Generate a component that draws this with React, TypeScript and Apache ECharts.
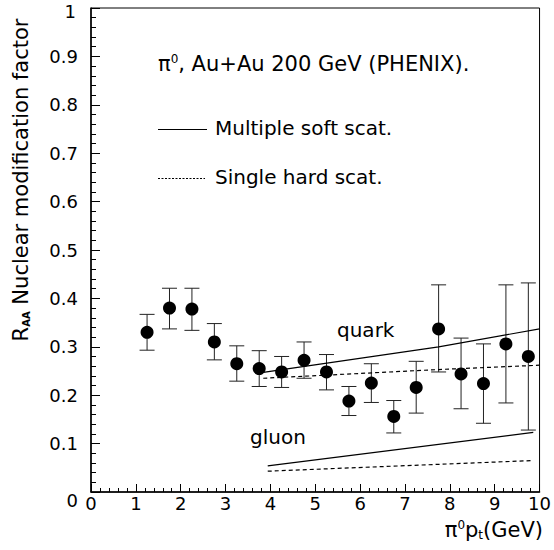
import React, { useEffect, useRef } from "react";
import * as echarts from "echarts";

const ptBins = [1.25, 1.75, 2.25, 2.75, 3.25, 3.75, 4.25, 4.75, 5.25, 5.75, 6.25, 6.75, 7.25, 7.75, 8.25, 8.75, 9.25, 9.75];
const raa = [0.330, 0.380, 0.378, 0.310, 0.265, 0.255, 0.248, 0.272, 0.248, 0.188, 0.225, 0.156, 0.216, 0.337, 0.244, 0.224, 0.306, 0.280];
const raaHigh = [0.367, 0.421, 0.421, 0.348, 0.302, 0.292, 0.280, 0.310, 0.284, 0.218, 0.265, 0.189, 0.270, 0.428, 0.318, 0.306, 0.428, 0.432];
const raaLow = [0.293, 0.337, 0.334, 0.273, 0.229, 0.218, 0.216, 0.235, 0.211, 0.158, 0.185, 0.122, 0.163, 0.248, 0.172, 0.142, 0.184, 0.128];

const quarkSoft = [[3.84, 0.247], [7.75, 0.300], [10, 0.337]];
const quarkHard = [[3.84, 0.235], [7.75, 0.253], [10, 0.262]];
const gluonSoft = [[3.94, 0.054], [9.86, 0.123]];
const gluonHard = [[3.94, 0.043], [9.86, 0.065]];

const xTicks = [0, 1, 2, 3, 4, 5, 6, 7, 8, 9, 10];

const FONT = "DejaVu Sans";
const TXT = 20;

export default function App() {
  const ref = useRef<HTMLDivElement>(null);
  useEffect(() => {
    if (!ref.current) return;
    const chart = echarts.init(ref.current, null, { renderer: "svg" });
    const points = ptBins.map((x, i) => [x, raa[i]]);
    const errData = ptBins.map((x, i) => [x, raaLow[i], raaHigh[i]]);
    const lineSeries = (name: string, data: number[][], dashed: boolean) => ({
      type: "line",
      name,
      data,
      symbol: "none",
      silent: true,
      lineStyle: { color: "#000", width: 1.2, type: dashed ? [4, 3] : "solid" },
      z: 3,
    });
    chart.setOption({
      animation: false,
      backgroundColor: "#fff",
      grid: { left: 91, right: 10, top: 8, bottom: 58, show: true, borderColor: "#000", borderWidth: 1 },
      xAxis: {
        type: "value",
        min: 0,
        max: 10,
        interval: 1,
        axisLine: { onZero: false, lineStyle: { color: "#000", width: 1.5 } },
        axisTick: { inside: true, length: 8, lineStyle: { color: "#000" } },
        minorTick: { show: true, splitNumber: 5, length: 4, lineStyle: { color: "#000" } },
        splitLine: { show: false },
        axisLabel: {
          color: "#000",
          fontFamily: FONT,
          fontSize: 18,
          margin: 2,
          formatter: (v: number) => (xTicks.includes(v) ? String(v) : ""),
        },
      },
      yAxis: {
        type: "value",
        min: 0,
        max: 1,
        interval: 0.1,
        axisLine: { onZero: false, lineStyle: { color: "#000", width: 1.5 } },
        axisTick: { inside: true, length: 9, lineStyle: { color: "#000" } },
        minorTick: { show: true, splitNumber: 5, length: 5, lineStyle: { color: "#000" } },
        splitLine: { show: false },
        axisLabel: {
          color: "#000",
          fontFamily: FONT,
          fontSize: 18,
          margin: 13,
          formatter: (v: number) =>
            Math.abs(v - 1) < 1e-9 ? "{top|1}" : Math.abs(v) < 1e-9 ? "{bot|0}" : v.toFixed(1),
          rich: {
            top: { fontFamily: FONT, fontSize: 18, color: "#000", padding: [6, 2, 0, 0] },
            bot: { fontFamily: FONT, fontSize: 18, color: "#000", padding: [16, 0, 0, 0] },
          },
        },
      },
      series: [
        {
          type: "custom",
          name: "errors",
          data: errData,
          silent: true,
          z: 2,
          renderItem: (params: any, api: any) => {
            const x = api.value(0);
            const lo = api.coord([x, api.value(1)]);
            const hi = api.coord([x, api.value(2)]);
            const hw = 7.5;
            const style = { stroke: "#222", lineWidth: 1 };
            return {
              type: "group",
              children: [
                { type: "line", shape: { x1: lo[0], y1: lo[1], x2: hi[0], y2: hi[1] }, style },
                { type: "line", shape: { x1: lo[0] - hw, y1: lo[1], x2: lo[0] + hw, y2: lo[1] }, style },
                { type: "line", shape: { x1: hi[0] - hw, y1: hi[1], x2: hi[0] + hw, y2: hi[1] }, style },
              ],
            };
          },
        },
        lineSeries("quark soft", quarkSoft, false),
        lineSeries("quark hard", quarkHard, true),
        lineSeries("gluon soft", gluonSoft, false),
        lineSeries("gluon hard", gluonHard, true),
        {
          type: "scatter",
          name: "PHENIX",
          data: points,
          symbol: "circle",
          symbolSize: 13,
          itemStyle: { color: "#000", opacity: 1 },
          silent: true,
          z: 4,
        },
      ],
      graphic: [
        {
          type: "text",
          x: 158,
          y: 64,
          style: {
            text: "{t|π}{sup|0}{t|, Au+Au 200 GeV (PHENIX).}",
            textVerticalAlign: "middle",
            rich: {
              t: { fontFamily: FONT, fontSize: 21, fill: "#000" },
              sup: { fontFamily: FONT, fontSize: 12, fill: "#000", padding: [0, 0, 10, 0] },
            },
          },
        },
        { type: "line", shape: { x1: 158, y1: 129.5, x2: 207, y2: 129.5 }, style: { stroke: "#000", lineWidth: 1 } },
        {
          type: "text",
          x: 215,
          y: 128,
          style: { text: "Multiple soft scat.", fontFamily: FONT, fontSize: TXT, fill: "#000", textVerticalAlign: "middle" },
        },
        { type: "line", shape: { x1: 158, y1: 178.5, x2: 205, y2: 178.5 }, style: { stroke: "#000", lineWidth: 1, lineDash: [2, 1.5] } },
        {
          type: "text",
          x: 215,
          y: 176.5,
          style: { text: "Single hard scat.", fontFamily: FONT, fontSize: TXT, fill: "#000", textVerticalAlign: "middle" },
        },
        {
          type: "text",
          x: 337,
          y: 330,
          style: { text: "quark", fontFamily: FONT, fontSize: TXT, fill: "#000", textVerticalAlign: "middle" },
        },
        {
          type: "text",
          x: 250,
          y: 437,
          style: { text: "gluon", fontFamily: FONT, fontSize: TXT, fill: "#000", textVerticalAlign: "middle" },
        },
        {
          type: "text",
          x: 543,
          y: 530,
          style: {
            text: "{t|π}{sup|0}{t|p}{sub|t}{t|(GeV)}",
            textAlign: "right",
            textVerticalAlign: "middle",
            rich: {
              t: { fontFamily: FONT, fontSize: 21, fill: "#000" },
              sup: { fontFamily: FONT, fontSize: 12, fill: "#000", padding: [0, 0, 11, 0] },
              sub: { fontFamily: FONT, fontSize: 12, fill: "#000", padding: [9, 0, 0, 0] },
            },
          },
        },
        {
          type: "text",
          x: 21,
          y: 180,
          rotation: Math.PI / 2,
          style: {
            text: "{t|R}{sub|AA}{t| Nuclear modification factor}",
            textAlign: "center",
            textVerticalAlign: "middle",
            rich: {
              t: { fontFamily: FONT, fontSize: 21, fill: "#000" },
              sub: { fontFamily: FONT, fontSize: 10, fontWeight: "bold", fill: "#000", padding: [10, 0, 0, 0] },
            },
          },
        },
      ],
    });
    return () => chart.dispose();
  }, []);
  return <div ref={ref} style={{ width: 554, height: 550, position: "absolute", left: 0, top: 0 }} />;
}
